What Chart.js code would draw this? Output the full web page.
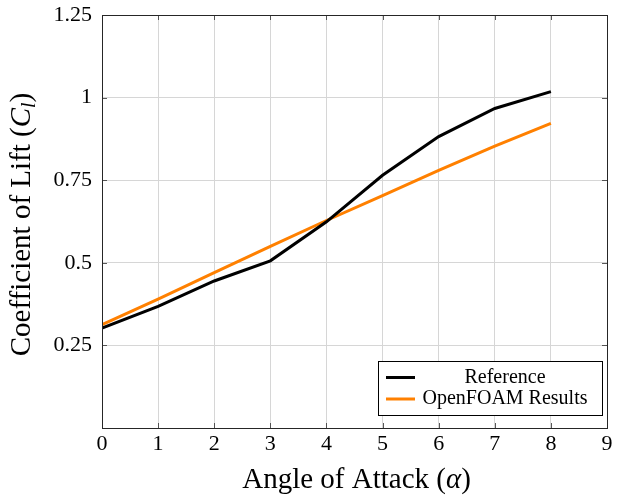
<!DOCTYPE html>
<html>
<head>
<meta charset="utf-8">
<script src="https://cdn.jsdelivr.net/npm/chart.js@4/dist/chart.umd.min.js"></script>
<style>
  html, body { margin: 0; padding: 0; background: #ffffff; }
  #wrap { width: 621px; height: 500px; }
</style>
</head>
<body>
<div id="wrap"><canvas id="c" width="621" height="500"></canvas></div>
<script>
// ---- data ----
const angles = [0, 1, 2, 3, 4, 5, 6, 7, 8];
const referenceCl = [0.302, 0.368, 0.445, 0.506, 0.624, 0.765, 0.882, 0.967, 1.018];
const openfoamCl  = [0.313, 0.390, 0.470, 0.550, 0.628, 0.703, 0.780, 0.853, 0.922];
const seriesNames = ['Reference', 'OpenFOAM Results'];
const xTickLabels = ['0', '1', '2', '3', '4', '5', '6', '7', '8', '9'];
const yTickLabels = ['', '0.25', '0.5', '0.75', '1', '1.25'];
// axis titles: [text, style] pieces (style: r = regular, i = italic, s = italic subscript)
const xTitleParts = [['Angle of Attack (', 'r'], ['α', 'i'], [')', 'r']];
const yTitleParts = [['Coefficient of Lift (', 'r'], ['C', 'i'], ['l', 's'], [')', 'r']];

const SERIF = '"Liberation Serif", "DejaVu Serif", serif';
const TITLE_SIZE = 29;

function drawParts(ctx, parts, cx, baseY) {
  const fontFor = (st) => st === 'r' ? `${TITLE_SIZE}px ${SERIF}`
                       : st === 'i' ? `italic ${TITLE_SIZE}px ${SERIF}`
                       : `italic ${Math.round(TITLE_SIZE * 0.7)}px ${SERIF}`;
  let total = 0;
  const widths = parts.map(([t, st]) => { ctx.font = fontFor(st); const w = ctx.measureText(t).width; total += w; return w; });
  let x = cx - total / 2;
  ctx.textAlign = 'left';
  ctx.textBaseline = 'alphabetic';
  parts.forEach(([t, st], i) => {
    ctx.font = fontFor(st);
    ctx.fillText(t, x, baseY + (st === 's' ? 5 : 0));
    x += widths[i];
  });
}

const framePlugin = {
  id: 'frameAndLegend',
  afterDraw(chart) {
    const ctx = chart.ctx;
    const a = chart.chartArea;
    const xs = chart.scales.x, ys = chart.scales.y;
    ctx.save();
    // inner tick marks
    ctx.strokeStyle = 'rgba(60,60,60,0.85)';
    ctx.lineWidth = 1;
    ctx.beginPath();
    xs.ticks.forEach(t => {
      const px = Math.round(xs.getPixelForValue(t.value)) + 0.5;
      ctx.moveTo(px, a.bottom); ctx.lineTo(px, a.bottom - 5);
      ctx.moveTo(px, a.top); ctx.lineTo(px, a.top + 5);
    });
    ys.ticks.forEach(t => {
      const py = Math.round(ys.getPixelForValue(t.value)) + 0.5;
      ctx.moveTo(a.left, py); ctx.lineTo(a.left + 5, py);
      ctx.moveTo(a.right, py); ctx.lineTo(a.right - 5, py);
    });
    ctx.stroke();
    // frame
    ctx.strokeStyle = '#262626';
    ctx.lineWidth = 1;
    ctx.strokeRect(Math.round(a.left) + 0.5, Math.round(a.top) + 0.5,
                   Math.round(a.right - a.left), Math.round(a.bottom - a.top));
    // legend box
    const bw = 224, bh = 54;
    const bx = Math.round(a.right - 5 - bw), by = Math.round(a.bottom - 13 - bh);
    ctx.fillStyle = '#ffffff';
    ctx.fillRect(bx, by, bw, bh);
    ctx.strokeStyle = '#000000';
    ctx.strokeRect(bx + 0.5, by + 0.5, bw, bh);
    ctx.font = '20px ' + SERIF;
    ctx.textAlign = 'center';
    ctx.textBaseline = 'middle';
    chart.data.datasets.forEach((ds, i) => {
      const cy = by + 16.5 + i * 21.5;
      ctx.strokeStyle = ds.borderColor;
      ctx.lineWidth = 3;
      ctx.beginPath();
      ctx.moveTo(bx + 8, cy); ctx.lineTo(bx + 37, cy);
      ctx.stroke();
      ctx.fillStyle = '#000000';
      ctx.fillText(ds.label, bx + 127, cy);
    });
    // axis titles
    ctx.fillStyle = '#000000';
    drawParts(ctx, xTitleParts, (a.left + a.right) / 2 + 2, 488);
    ctx.save();
    ctx.translate(30, (a.top + a.bottom) / 2 + 3);
    ctx.rotate(-Math.PI / 2);
    drawParts(ctx, yTitleParts, 0, 0);
    ctx.restore();
    ctx.restore();
  }
};

new Chart(document.getElementById('c'), {
  type: 'line',
  data: {
    datasets: [
      { label: seriesNames[0], data: angles.map((x, i) => ({ x, y: referenceCl[i] })),
        borderColor: '#000000', backgroundColor: '#000000', borderWidth: 3,
        pointRadius: 0, tension: 0, fill: false },
      { label: seriesNames[1], data: angles.map((x, i) => ({ x, y: openfoamCl[i] })),
        borderColor: '#ff8000', backgroundColor: '#ff8000', borderWidth: 3,
        pointRadius: 0, tension: 0, fill: false }
    ]
  },
  options: {
    responsive: false,
    devicePixelRatio: 1,
    animation: false,
    layout: { padding: { top: 15, right: 14, left: 0, bottom: 0 } },
    plugins: { legend: { display: false }, tooltip: { enabled: false } },
    scales: {
      x: {
        type: 'linear', min: 0, max: 9,
        afterFit(s) { s.height = 72; s.paddingLeft = 0; s.paddingRight = 0; },
        ticks: { stepSize: 1, padding: 3, color: '#000', font: { family: SERIF, size: 22 },
                 callback: (v) => xTickLabels[v] ?? '' },
        grid: { color: '#d6d6d6', drawTicks: false, lineWidth: 1 },
        border: { display: false },
        title: { display: false }
      },
      y: {
        type: 'linear', min: 0, max: 1.25,
        afterFit(s) { s.width = 102; s.paddingTop = 0; s.paddingBottom = 0; },
        ticks: { stepSize: 0.25, padding: 10, color: '#000', font: { family: SERIF, size: 22 },
                 callback: (v) => yTickLabels[Math.round(v / 0.25)] ?? '' },
        grid: { color: '#d6d6d6', drawTicks: false, lineWidth: 1 },
        border: { display: false },
        title: { display: false }
      }
    }
  },
  plugins: [framePlugin]
});
</script>
</body>
</html>
